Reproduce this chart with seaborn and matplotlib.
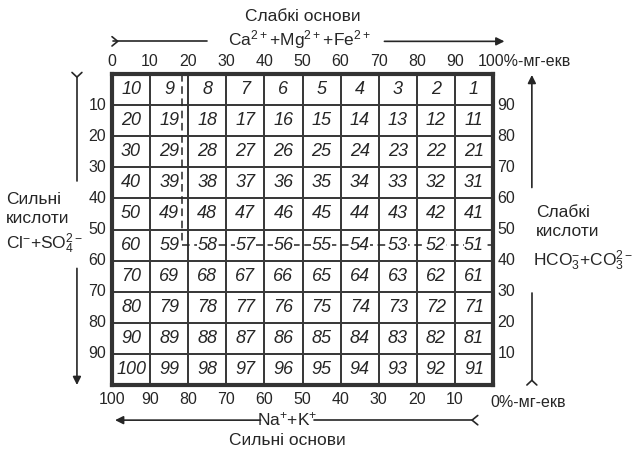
import matplotlib
matplotlib.use('Agg')
import matplotlib.pyplot as plt
import numpy as np
import pandas as pd
import seaborn as sns
from matplotlib.colors import ListedColormap

# cell numbers of the classification grid (row by row, top to bottom)
cell_numbers = [
    [10, 9, 8, 7, 6, 5, 4, 3, 2, 1],
    [20, 19, 18, 17, 16, 15, 14, 13, 12, 11],
    [30, 29, 28, 27, 26, 25, 24, 23, 22, 21],
    [40, 39, 38, 37, 36, 35, 34, 33, 32, 31],
    [50, 49, 48, 47, 46, 45, 44, 43, 42, 41],
    [60, 59, 58, 57, 56, 55, 54, 53, 52, 51],
    [70, 69, 68, 67, 66, 65, 64, 63, 62, 61],
    [80, 79, 78, 77, 76, 75, 74, 73, 72, 71],
    [90, 89, 88, 87, 86, 85, 84, 83, 82, 81],
    [100, 99, 98, 97, 96, 95, 94, 93, 92, 91],
]
top_ticks = ['0', '10', '20', '30', '40', '50', '60', '70', '80', '90']
top_last = '100%-мг-екв'
bottom_ticks = ['100', '90', '80', '70', '60', '50', '40', '30', '20', '10']
bottom_last = '0%-мг-екв'
left_ticks = ['10', '20', '30', '40', '50', '60', '70', '80', '90']
right_ticks = ['90', '80', '70', '60', '50', '40', '30', '20', '10']

# dashed boundary (in % units): vertical at Ca+Mg+Fe ~ 18.5 down to 55, then horizontal at 55
dash_x = 18.5
dash_y = 55

sns.set_theme(style='white')
plt.rcParams['font.family'] = ['Liberation Sans', 'DejaVu Sans']
plt.rcParams['mathtext.default'] = 'regular'
ink = '#262626'

fig = plt.figure(figsize=(6.38, 4.51), dpi=100)
fig.patch.set_facecolor('white')
ax = fig.add_axes([112 / 638, 1 - 385 / 451, 381 / 638, 311 / 451])

df = pd.DataFrame(cell_numbers)
sns.heatmap(df, annot=df.astype(str).values, fmt='', cmap=ListedColormap(['white']),
            cbar=False, linewidths=1.3, linecolor='#3a3a3a', ax=ax,
            annot_kws=dict(fontsize=13, style='italic', color=ink,
                           bbox=dict(facecolor='white', edgecolor='none', pad=0.3)))
ax.set_xticks([])
ax.set_yticks([])
ax.set_xlabel('')
ax.set_ylabel('')
for sp in ax.spines.values():
    sp.set_visible(True)
    sp.set_linewidth(3)
    sp.set_color('#333333')

# dashed boundary lines
ax.plot([dash_x / 10, dash_x / 10], [0, dash_y / 10], ls=(0, (5, 3)), color=ink, lw=1.1, zorder=1)
ax.plot([dash_x / 10, 10], [dash_y / 10, dash_y / 10], ls=(0, (5, 3)), color=ink, lw=1.1, zorder=1)

tk = dict(fontsize=11.5, color=ink, clip_on=False)
# top scale
for i, lab in enumerate(top_ticks):
    ax.text(i, -0.4, lab, ha='center', va='center', **tk)
ax.text(9.6, -0.4, top_last, ha='left', va='center', **tk)
# bottom scale
for i, lab in enumerate(bottom_ticks):
    ax.text(i, 10.48, lab, ha='center', va='center', **tk)
ax.text(9.92, 10.55, bottom_last, ha='left', va='center', **tk)
# left / right scales
for i, lab in enumerate(left_ticks):
    ax.text(-0.15, i + 1, lab, ha='right', va='center', **tk)
for i, lab in enumerate(right_ticks):
    ax.text(10.12, i + 1, lab, ha='left', va='center', **tk)

lab_kw = dict(fontsize=12.5, color=ink, clip_on=False)
arr = dict(arrowstyle='-|>', color=ink, lw=1.2, mutation_scale=12, shrinkA=0, shrinkB=0)
line = dict(color=ink, lw=1.2, clip_on=False)

# top: weak bases
ax.text(5.0, -1.85, 'Слабкі основи', ha='center', va='center', **lab_kw)
ax.text(4.93, -1.12, r'Ca$^{2+}$+Mg$^{2+}$+Fe$^{2+}$', ha='center', va='center', **lab_kw)
ax.plot([0.03, 2.5], [-1.05, -1.05], **line)
ax.plot([0.0, 0.15, 0.0], [-1.2, -1.05, -0.9], **line)
ax.annotate('', xy=(10.3, -1.05), xytext=(7.15, -1.05), arrowprops=arr, annotation_clip=False)

# bottom: strong bases
ax.text(4.6, 11.77, 'Сильні основи', ha='center', va='center', **lab_kw)
ax.text(4.6, 11.1, r'Na$^{+}$+K$^{+}$', ha='center', va='center', **lab_kw)
ax.annotate('', xy=(0.08, 11.13), xytext=(3.9, 11.13), arrowprops=arr, annotation_clip=False)
ax.plot([5.3, 9.45], [11.13, 11.13], **line)
ax.plot([9.6, 9.45, 9.6], [10.98, 11.13, 11.28], **line)

# left: strong acids
ax.text(-2.78, 4.05, 'Сильні', ha='left', va='center', **lab_kw)
ax.text(-2.78, 4.65, 'кислоти', ha='left', va='center', **lab_kw)
ax.text(-2.78, 5.45, r'Cl$^{-}$+SO$_4^{2-}$', ha='left', va='center', **lab_kw)
ax.plot([-0.92, -0.92], [0.1, 3.45], **line)
ax.plot([-1.05, -0.92, -0.79], [-0.05, 0.1, -0.05], **line)
ax.annotate('', xy=(-0.92, 10.0), xytext=(-0.92, 6.25), arrowprops=arr, annotation_clip=False)

# right: weak acids
ax.text(11.12, 4.45, 'Слабкі', ha='left', va='center', **lab_kw)
ax.text(11.12, 5.05, 'кислоти', ha='left', va='center', **lab_kw)
ax.text(11.05, 6.0, r'HCO$_3^{-}$+CO$_3^{2-}$', ha='left', va='center', **lab_kw)
ax.annotate('', xy=(11.02, 0.03), xytext=(11.02, 3.65), arrowprops=arr, annotation_clip=False)
ax.plot([11.02, 11.02], [7.05, 9.85], **line)
ax.plot([10.89, 11.02, 11.15], [10.0, 9.85, 10.0], **line)

fig.savefig('out.png', dpi=100, facecolor='white')
